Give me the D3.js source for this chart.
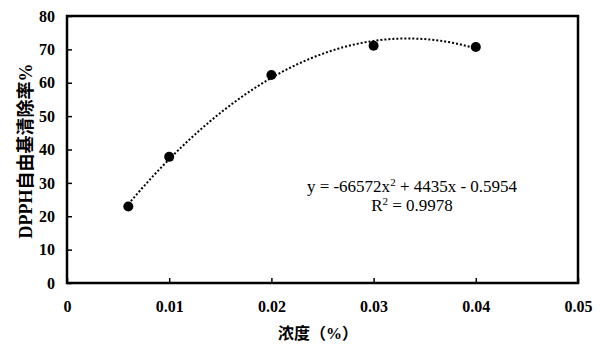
<!DOCTYPE html>
<html>
<head>
<meta charset="utf-8">
<script src="https://cdn.jsdelivr.net/npm/d3@7"></script>
<style>
  body { margin: 0; background: #fff; }
  svg { display: block; }
</style>
</head>
<body>
<svg id="chart" width="600" height="352"></svg>
<script>
// measured points
var concentration = [0.006, 0.01, 0.02, 0.03, 0.04];
var scavenging = [22.9, 37.8, 62.3, 71.1, 70.7];

// trendline coefficients as printed on the chart (a, b, c)
var trendCoef = [-66572, 4435, -0.5954];
var xTicks = [0, 0.01, 0.02, 0.03, 0.04, 0.05];
var yTicks = [0, 10, 20, 30, 40, 50, 60, 70, 80];

var svg = d3.select("#chart");
var mLeft = 67, mRight = 578, mTop = 16, mBottom = 283;

var x = d3.scaleLinear().domain([0, 0.05]).range([mLeft, mRight]);
var y = d3.scaleLinear().domain([0, 80]).range([mBottom, mTop]);

function styleTicks(g) {
  g.select(".domain").remove();
  g.attr("font-family", "Liberation Serif, serif").attr("font-size", 16).attr("font-weight", "bold");
  g.selectAll(".tick line").attr("stroke-width", 1.5);
}

// axes, ticks point inward
svg.append("g")
  .attr("transform", "translate(0," + mBottom + ")")
  .call(d3.axisTop(x).tickValues(xTicks).tickSize(5).tickFormat(function(d) { return d === 0 ? "0" : d3.format(".2f")(d); }))
  .call(styleTicks)
  .call(function(g) {
    g.selectAll(".tick text").attr("y", 18).attr("dy", "0.71em");
  });

svg.append("g")
  .attr("transform", "translate(" + mLeft + ",0)")
  .call(d3.axisRight(y).tickValues(yTicks).tickSize(5))
  .call(styleTicks)
  .call(function(g) {
    g.selectAll(".tick text").attr("x", -12).attr("text-anchor", "end");
  });

svg.append("rect")
  .attr("x", mLeft).attr("y", mTop)
  .attr("width", mRight - mLeft).attr("height", mBottom - mTop)
  .attr("fill", "none").attr("stroke", "#000").attr("stroke-width", 2.5);

// trend curve
var xs = d3.range(0.006, 0.0401, 0.0005);
var line = d3.line()
  .x(function(d) { return x(d); })
  .y(function(d) { return y(trendCoef[0] * d * d + trendCoef[1] * d + trendCoef[2]); })
  .curve(d3.curveBasis);
svg.append("path")
  .datum(xs)
  .attr("d", line)
  .attr("fill", "none")
  .attr("stroke", "#000")
  .attr("stroke-width", 2)
  .attr("stroke-dasharray", "2,2");

svg.selectAll("circle.pt")
  .data(concentration)
  .enter().append("circle")
  .attr("class", "pt")
  .attr("cx", function(d) { return x(d); })
  .attr("cy", function(d, i) { return y(scavenging[i]); })
  .attr("r", 5)
  .attr("fill", "#000");

// equation
var eq = svg.append("text")
  .attr("x", 412).attr("y", 192)
  .attr("text-anchor", "middle")
  .attr("font-family", "Liberation Serif, serif")
  .attr("font-size", 17);
eq.append("tspan").text("y = -66572x");
eq.append("tspan").attr("dy", -6).attr("font-size", 11).text("2");
eq.append("tspan").attr("dy", 6).text(" + 4435x - 0.5954");

var r2 = svg.append("text")
  .attr("x", 412).attr("y", 211)
  .attr("text-anchor", "middle")
  .attr("font-family", "Liberation Serif, serif")
  .attr("font-size", 17);
r2.append("tspan").text("R");
r2.append("tspan").attr("dy", -6).attr("font-size", 11).text("2");
r2.append("tspan").attr("dy", 6).text(" = 0.9978");

// axis titles
svg.append("text")
  .attr("x", 318).attr("y", 339)
  .attr("text-anchor", "middle")
  .attr("font-family", "Liberation Serif, Noto Sans CJK SC, serif")
  .attr("font-weight", "bold")
  .attr("font-size", 16)
  .text("浓度（%）");

svg.append("text")
  .attr("transform", "translate(32,151) rotate(-90)")
  .attr("text-anchor", "middle")
  .attr("font-family", "Liberation Serif, Noto Sans CJK SC, serif")
  .attr("font-weight", "bold")
  .attr("font-size", 18)
  .text("DPPH自由基清除率%");
</script>
</body>
</html>
